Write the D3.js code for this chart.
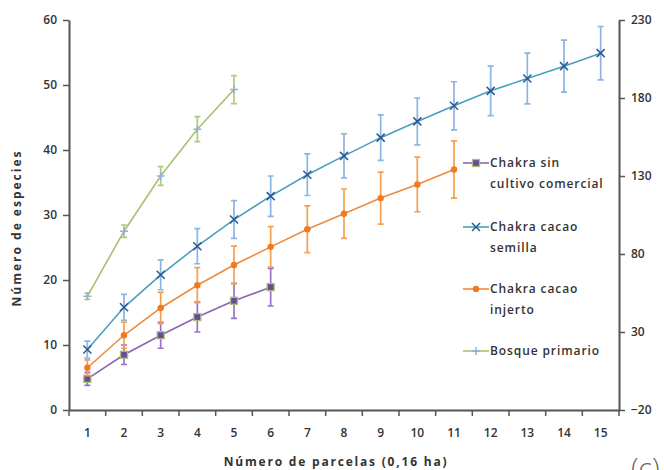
<!DOCTYPE html>
<meta charset="utf-8">
<style>
body { margin: 0; background: #fff; }
text { font-family: "Open Sans", sans-serif; fill: #333; }
.axis path, .axis line { stroke: #555; }
.axis path { stroke-width: 2px; }
.axis line { stroke-width: 1.5px; }
.axis text { font-size: 12px; font-weight: 600; }
.legend text { font-size: 12px; font-weight: 600; letter-spacing: 0.9px; }
</style>
<svg width="664" height="470"></svg>
<script src="https://cdnjs.cloudflare.com/ajax/libs/d3/7.8.5/d3.min.js"></script>
<script>

var parcelas = [1, 2, 3, 4, 5, 6, 7, 8, 9, 10, 11, 12, 13, 14, 15];

// Chakra sin cultivo comercial (left axis)
var sinCultivo = [4.8, 8.5, 11.5, 14.3, 16.8, 18.9];
var sinCultivoErr = [1.0, 1.5, 2.0, 2.3, 2.7, 2.9];

// Chakra cacao semilla (left axis)
var semilla = [9.3, 15.8, 20.8, 25.2, 29.3, 32.9, 36.2, 39.1, 41.9, 44.4, 46.8, 49.1, 51.0, 52.9, 54.9];
var semillaErr = [1.3, 2.0, 2.3, 2.7, 2.9, 3.1, 3.2, 3.4, 3.5, 3.6, 3.7, 3.8, 3.9, 4.0, 4.1];

// Chakra cacao injerto (left axis)
var injerto = [6.5, 11.5, 15.7, 19.2, 22.3, 25.1, 27.8, 30.2, 32.6, 34.7, 37.0];
var injertoErr = [1.2, 2.0, 2.4, 2.7, 2.9, 3.1, 3.6, 3.8, 4.0, 4.2, 4.4];

// Bosque primario (right axis)
var bosque = [52.9, 94.6, 130, 160, 185.4];
var bosqueErr = [2, 4, 6, 8, 9];

var leftTicks = [0, 10, 20, 30, 40, 50, 60];
var rightTicks = [-20, 30, 80, 130, 180, 230];

var svg = d3.select("svg");
var pLeft = 69, pRight = 619, pTop = 20, pBottom = 410;

var x = d3.scaleBand().domain(parcelas).range([pLeft, pRight]);
var cx = function(i) { return x(parcelas[i]) + x.bandwidth() / 2; };
var yL = d3.scaleLinear().domain([0, 60]).range([pBottom, pTop]);
var yR = d3.scaleLinear().domain([-20, 230]).range([pBottom, pTop]);

// axes
svg.append("g").attr("class", "axis")
    .attr("transform", "translate(" + pLeft + ",0)")
    .call(d3.axisLeft(yL).tickValues(leftTicks).tickSize(6).tickSizeOuter(0).tickPadding(6));
svg.append("g").attr("class", "axis")
    .attr("transform", "translate(" + pRight + ",0)")
    .call(d3.axisRight(yR).tickValues(rightTicks).tickSize(6).tickSizeOuter(0).tickPadding(6));

var xAxis = svg.append("g").attr("class", "axis")
    .attr("transform", "translate(0," + pBottom + ")")
    .call(d3.axisBottom(x).tickSize(0).tickPadding(18).tickSizeOuter(0));
xAxis.selectAll(".tick line").remove();
xAxis.selectAll(".bnd").data(parcelas).enter().append("line")
    .attr("x1", function(d) { return x(d) + x.bandwidth(); })
    .attr("x2", function(d) { return x(d) + x.bandwidth(); })
    .attr("y1", 0).attr("y2", 6);
xAxis.append("line").attr("x1", pLeft).attr("x2", pLeft).attr("y1", 0).attr("y2", 6);

// titles
svg.append("text")
    .attr("transform", "translate(21,228) rotate(-90)")
    .attr("text-anchor", "middle")
    .style("font-size", "12px").style("font-weight", "700").style("letter-spacing", "2px")
    .text("Número de especies");
svg.append("text")
    .attr("x", 336).attr("y", 466)
    .attr("text-anchor", "middle")
    .style("font-size", "12px").style("font-weight", "700").style("letter-spacing", "1.8px")
    .text("Número de parcelas (0,16 ha)");
svg.append("text")
    .attr("x", 631).attr("y", 478)
    .style("font-size", "28px").style("font-weight", "300").style("fill", "#666")
    .text("(c)");

var series = [
  {name: ["Chakra sin", "cultivo comercial"], v: sinCultivo, e: sinCultivoErr, y: yL,
   line: "#8a64b8", err: "#9a70cc", marker: "square", mcol: "#6a4a9a", ly: 163},
  {name: ["Chakra cacao", "semilla"], v: semilla, e: semillaErr, y: yL,
   line: "#4a9ec0", err: "#8ab4e4", marker: "x", mcol: "#2a5a90", ly: 227},
  {name: ["Chakra cacao", "injerto"], v: injerto, e: injertoErr, y: yL,
   line: "#f08a3a", err: "#f4a050", marker: "circle", mcol: "#f07a20", ly: 289},
  {name: ["Bosque primario"], v: bosque, e: bosqueErr, y: yR,
   line: "#a8c070", err: "#b4c880", marker: "plus", mcol: "#8fb0e0", ly: 351}
];

function drawMarker(g, type, col, px, py) {
  if (type === "square") {
    g.append("rect").attr("x", px - 3.5).attr("y", py - 3.5).attr("width", 7).attr("height", 7)
        .attr("fill", col).attr("stroke", "#a8c070").attr("stroke-width", 1.3);
  } else if (type === "circle") {
    g.append("circle").attr("cx", px).attr("cy", py).attr("r", 3.2).attr("fill", col);
  } else if (type === "x") {
    g.append("path").attr("d", "M" + (px - 4) + "," + (py - 4) + "L" + (px + 4) + "," + (py + 4) +
        "M" + (px - 4) + "," + (py + 4) + "L" + (px + 4) + "," + (py - 4))
        .attr("stroke", col).attr("stroke-width", 1.5);
  } else {
    g.append("path").attr("d", "M" + (px - 4) + "," + py + "L" + (px + 4) + "," + py +
        "M" + px + "," + (py - 4) + "L" + px + "," + (py + 4))
        .attr("stroke", col).attr("stroke-width", 1.5);
  }
}

series.forEach(function(s) {
  var g = svg.append("g");
  // error bars
  s.v.forEach(function(v, i) {
    var hi = s.y(v + s.e[i]), lo = s.y(v - s.e[i]), px = cx(i);
    g.append("path")
        .attr("d", "M" + px + "," + hi + "L" + px + "," + lo +
            "M" + (px - 3) + "," + hi + "L" + (px + 3) + "," + hi +
            "M" + (px - 3) + "," + lo + "L" + (px + 3) + "," + lo)
        .attr("fill", "none").attr("stroke", s.err).attr("stroke-width", 1.7);
  });
  var line = d3.line().x(function(d, i) { return cx(i); }).y(function(d) { return s.y(d); });
  g.append("path").datum(s.v).attr("d", line)
      .attr("fill", "none").attr("stroke", s.line).attr("stroke-width", 1.6);
  s.v.forEach(function(v, i) { drawMarker(g, s.marker, s.mcol, cx(i), s.y(v)); });

  // legend
  var lg = svg.append("g").attr("class", "legend");
  lg.append("line").attr("x1", 463).attr("x2", 489).attr("y1", s.ly).attr("y2", s.ly)
      .attr("stroke", s.line).attr("stroke-width", 1.6);
  drawMarker(lg, s.marker, s.mcol, 476, s.ly);
  s.name.forEach(function(t, k) {
    lg.append("text").attr("x", 490).attr("y", s.ly + 4 + k * 21).text(t);
  });
});

</script>
